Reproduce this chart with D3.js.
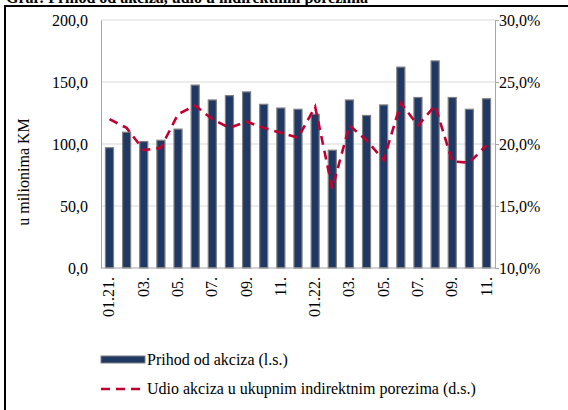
<!DOCTYPE html>
<html>
<head>
<meta charset="utf-8">
<script src="https://cdn.jsdelivr.net/npm/d3@7"></script>
<style>
  html, body { margin: 0; padding: 0; background: #fff; }
  svg text { font-family: "Times New Roman", "Liberation Serif", serif; fill: #000; }
</style>
</head>
<body>
<svg id="chart" width="568" height="410"></svg>
<script>
// mjeseci 01.2021 - 11.2022
var months = ["01.21.","02.","03.","04.","05.","06.","07.","08.","09.","10.","11.","12.",
              "01.22.","02.","03.","04.","05.","06.","07.","08.","09.","10.","11."]

// prihod od akciza, u milionima KM (l.s.)
var prihod = [97, 109.5, 102, 103, 112, 147.5, 135.5, 139, 142, 132, 129, 128,
              124, 95, 135.5, 123, 131.5, 162, 137.5, 167, 137.5, 128, 136.5]

// udio akciza u ukupnim indirektnim porezima, % (d.s.)
var udio = [22.0, 21.3, 19.5, 19.7, 22.4, 23.1, 22.0, 21.3, 21.8, 21.3, 20.9, 20.5,
            23.0, 16.4, 21.5, 20.3, 18.7, 23.3, 21.5, 23.1, 18.6, 18.5, 19.9]

var leftTicks = [0, 50, 100, 150, 200]
var rightTicks = [10, 15, 20, 25, 30]

var barColor = "#1f3864"
var lineColor = "#c0002f"
var serif = "'Times New Roman', 'Liberation Serif', serif"
var fmt = function(v){ return d3.format(".1f")(v).replace(".", ",") }

var svg = d3.select("#chart")

var plot = {left: 101, right: 495, top: 20, bottom: 268}

var x = d3.scaleBand()
  .domain(d3.range(months.length))
  .range([plot.left, plot.right])
  .paddingInner(0.53)
  .paddingOuter(0.26)

var yL = d3.scaleLinear().domain([0, 200]).range([plot.bottom, plot.top])
var yR = d3.scaleLinear().domain([10, 30]).range([plot.bottom, plot.top])

// okvir
svg.append("path")
  .attr("d", "M5,412 L5,6 L570,6")
  .attr("fill", "none")
  .attr("stroke", "#000")
  .attr("stroke-width", 2)

// naslov (odsjecen na vrhu kao u originalu)
svg.append("text")
  .attr("x", 6)
  .attr("y", 3)
  .attr("font-family", serif)
  .style("font-size", "16px")
  .style("font-weight", "bold")
  .text("Graf: Prihod od akciza, udio u indirektnim porezima")

// mreza
svg.append("g")
  .selectAll("line")
  .data(leftTicks.slice(1))
  .enter().append("line")
    .attr("x1", plot.left)
    .attr("x2", plot.right)
    .attr("y1", function(d){ return yL(d) })
    .attr("y2", function(d){ return yL(d) })
    .attr("stroke", "#d9d9d9")
    .attr("stroke-width", 1)

// lijeva osa
var leftAxis = svg.append("g")
  .attr("transform", "translate(" + plot.left + ",0)")
  .call(d3.axisLeft(yL).tickValues(leftTicks).tickSize(0).tickPadding(13).tickFormat(fmt))
leftAxis.attr("font-family", serif)
leftAxis.select(".domain").attr("stroke", "#a6a6a6")
leftAxis.selectAll("text").style("font-size", "16px")

svg.append("text")
  .attr("transform", "translate(29,172) rotate(-90)")
  .attr("text-anchor", "middle")
  .attr("font-family", serif)
  .style("font-size", "16px")
  .text("u milionima KM")

// desna osa
var rightAxis = svg.append("g")
  .attr("transform", "translate(" + plot.right + ",0)")
  .call(d3.axisRight(yR).tickValues(rightTicks).tickSize(4).tickPadding(0)
    .tickFormat(function(v){ return fmt(v) + "%" }))
rightAxis.attr("font-family", serif)
rightAxis.select(".domain").attr("stroke", "#a6a6a6")
rightAxis.selectAll(".tick line").attr("stroke", "#a6a6a6")
rightAxis.selectAll("text").style("font-size", "16px")

// stubici
svg.append("g")
  .selectAll("rect")
  .data(prihod)
  .enter().append("rect")
    .attr("x", function(d, i){ return x(i) })
    .attr("y", function(d){ return yL(d) })
    .attr("width", x.bandwidth())
    .attr("height", function(d){ return yL(0) - yL(d) })
    .attr("fill", barColor)
    .attr("stroke", "#7f7f7f")
    .attr("stroke-width", 1.2)

// donja osa
svg.append("line")
  .attr("x1", plot.left).attr("x2", plot.right)
  .attr("y1", plot.bottom).attr("y2", plot.bottom)
  .attr("stroke", "#a6a6a6")

// linija udjela
var line = d3.line()
  .x(function(d, i){ return x(i) + x.bandwidth() / 2 })
  .y(function(d){ return yR(d) })

svg.append("path")
  .datum(udio)
  .attr("d", line)
  .attr("fill", "none")
  .attr("stroke", lineColor)
  .attr("stroke-width", 2.6)
  .attr("stroke-dasharray", "9,6")

// oznake na x osi (svaki drugi mjesec)
svg.append("g")
  .selectAll("text")
  .data(months.map(function(m, i){ return {m: m, i: i} }).filter(function(d){ return d.i % 2 == 0 }))
  .enter().append("text")
    .attr("transform", function(d){
      return "translate(" + (x(d.i) + x.bandwidth() / 2 + 5) + "," + (plot.bottom + 9) + ") rotate(-90)"
    })
    .attr("text-anchor", "end")
    .attr("font-family", serif)
    .style("font-size", "16px")
    .text(function(d){ return d.m })

// legenda
var legend = svg.append("g").attr("font-family", serif)
legend.append("rect")
  .attr("x", 101).attr("y", 356)
  .attr("width", 44).attr("height", 7)
  .attr("fill", barColor)
  .attr("stroke", "#7f7f7f")
  .attr("stroke-width", 1)
legend.append("text")
  .attr("x", 147).attr("y", 365)
  .style("font-size", "16px")
  .text("Prihod od akciza (l.s.)")
legend.append("line")
  .attr("x1", 101).attr("x2", 146)
  .attr("y1", 389).attr("y2", 389)
  .attr("stroke", lineColor)
  .attr("stroke-width", 2.6)
  .attr("stroke-dasharray", "9,6")
legend.append("text")
  .attr("x", 147).attr("y", 394)
  .style("font-size", "16px")
  .text("Udio akciza u ukupnim indirektnim porezima (d.s.)")
</script>
</body>
</html>
